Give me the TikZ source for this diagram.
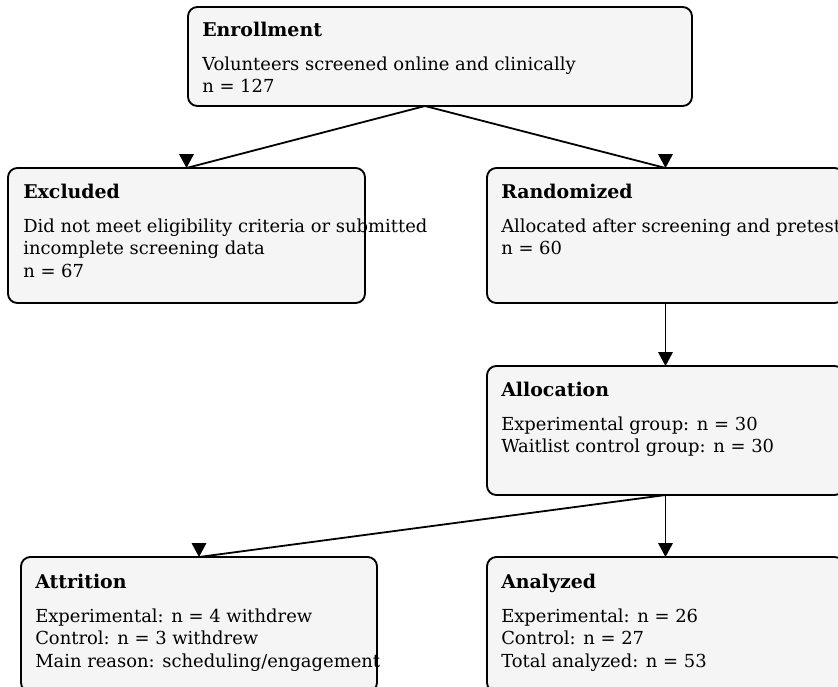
\documentclass[tikz,border=0pt]{standalone}
\usepackage{fontspec}
\setmainfont{DejaVu Serif}
\definecolor{boxfill}{HTML}{F5F5F5}
\newcommand{\bodylines}[1]{\vtop{\baselineskip=16.9pt\lineskiplimit=0pt\halign{##\hfil\cr#1\crcr}}}
\begin{document}
\begin{tikzpicture}[x=0.75pt,y=-0.75pt,
  box/.style={draw=black, fill=boxfill, line width=1.4pt, rounded corners=7pt,
    inner sep=0pt, outer sep=0pt, anchor=north west},
  ttl/.style={anchor=base west, inner sep=0pt, font=\fontsize{14.2}{17}\selectfont\bfseries},
  body/.style={anchor=base west, inner sep=0pt, font=\fontsize{13.45}{16.9}\selectfont},
  conn/.style={line width=1.35pt},
  head/.style={fill=black}
]
\clip (0,0) rectangle (838,686);
\useasboundingbox (0,0) rectangle (838,686);
% boxes
\node[box, minimum width=378pt, minimum height=74.25pt] (enroll) at (188,7) {};
\node[box, minimum width=267.75pt, minimum height=101.25pt] (excl) at (8,168) {};
\node[box, minimum width=267.75pt, minimum height=101.25pt] (rand) at (487,168) {};
\node[box, minimum width=267.75pt, minimum height=96.75pt] (alloc) at (487,366) {};
\node[box, minimum width=267pt, minimum height=101.25pt] (attr) at (21,557) {};
\node[box, minimum width=267.75pt, minimum height=101.25pt] (anal) at (487,557) {};
% texts
\node[ttl] (enrollT) at (202,36) {Enrollment};
\node[body] (enrollB) at (202,70) {\bodylines{Volunteers screened online and clinically\cr n = 127}};
\node[ttl] (exclT) at (23,198) {Excluded};
\node[body] (exclB) at (23,232) {\bodylines{Did not meet eligibility criteria or submitted\cr incomplete screening data\cr n = 67}};
\node[ttl] (randT) at (501,198) {Randomized};
\node[body] (randB) at (501,232) {\bodylines{Allocated after screening and pretest\cr n = 60}};
\node[ttl] (allocT) at (501,396) {Allocation};
\node[body] (allocB) at (501,430) {\bodylines{Experimental group: n = 30\cr Waitlist control group: n = 30}};
\node[ttl] (attrT) at (35,588) {Attrition};
\node[body] (attrB) at (35,622) {\bodylines{Experimental: n = 4 withdrew\cr Control: n = 3 withdrew\cr Main reason: scheduling/engagement}};
\node[ttl] (analT) at (501,588) {Analyzed};
\node[body] (analB) at (501,622) {\bodylines{Experimental: n = 26\cr Control: n = 27\cr Total analyzed: n = 53}};
% connectors
\coordinate (esrc) at (425,106);
\draw[conn] (esrc) -- (excl.north);
\draw[conn] (esrc) -- (rand.north);
\draw[conn] (rand.south) -- (alloc.north);
\draw[conn] (alloc.south) -- (attr.north);
\draw[conn] (alloc.south) -- (anal.north);
\foreach \t in {excl,rand,alloc,attr,anal}{
  \fill[head] (\t.north) -- ++(-7.5,-14) -- ++(15,0) -- cycle;
}
\end{tikzpicture}
\end{document}
